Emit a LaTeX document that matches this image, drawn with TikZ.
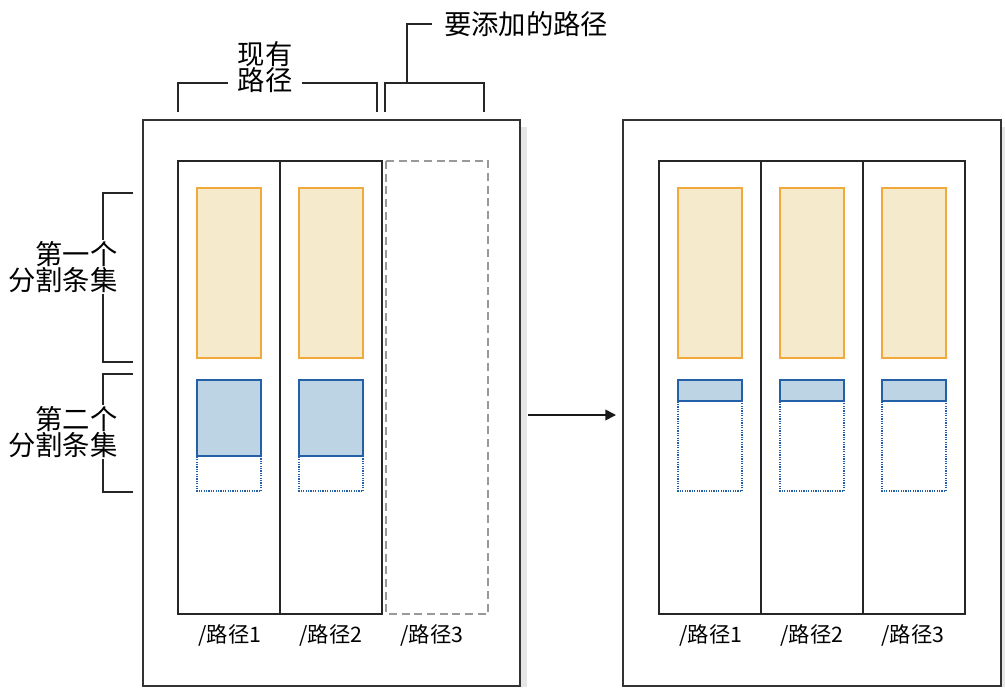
\documentclass[tikz,border=0pt]{standalone}
\usepackage{fontspec}
\setmainfont{Noto Sans CJK SC}
\usetikzlibrary{positioning,calc,arrows.meta}
\definecolor{setorange}{HTML}{F2A93B}
\definecolor{setorangefill}{HTML}{F5EACB}
\definecolor{setblue}{HTML}{2360A8}
\definecolor{setbluefill}{HTML}{BCD4E3}
\definecolor{shadowgray}{HTML}{E6E6E6}
\tikzset{
  outerbox/.style={draw=black!80, line width=1.2pt},
  pathcol/.style={draw=black!85, line width=1pt},
  newcol/.style={draw=black!40, line width=0.9pt, dash pattern=on 6pt off 3.5pt},
  firstset/.style={draw=setorange, fill=setorangefill, line width=1pt},
  secondset/.style={draw=setblue, fill=setbluefill, line width=1pt},
  freeset/.style={draw=setblue, line width=0.9pt, dash pattern=on 0.9pt off 0.9pt},
  bracket/.style={draw=black!85, line width=1pt},
  pathlabel/.style={font=\fontsize{16}{18}\selectfont, inner sep=0pt},
  toplabel/.style={font=\fontsize{20.5}{19.5}\selectfont, align=center, inner sep=0pt},
  setlabel/.style={font=\fontsize{20.5}{19.5}\selectfont, align=right, inner sep=1pt, fill=white},
}

\begin{document}
\begin{tikzpicture}[x=0.75pt,y=-0.75pt]
\useasboundingbox (0,0) rectangle (1005,687);
% shadows and outer boxes
\fill[shadowgray] (521,127) rectangle (527,687);
\fill[shadowgray] (1002,127) rectangle (1005,687);
\draw[outerbox] (143,120) rectangle (520,686);
\draw[outerbox] (623,120) rectangle (1001,686);

% left: existing paths + path to add
\draw[pathcol] (178,161) rectangle (280,614);
\draw[pathcol] (280,161) rectangle (382,614);
\draw[newcol] (386,161) rectangle (488,614);
\draw[firstset] (197,188) rectangle (261,358);
\draw[firstset] (299,188) rectangle (363,358);
\draw[freeset] (197,380) rectangle (261,491);
\draw[freeset] (299,380) rectangle (363,491);
\draw[secondset] (197,380) rectangle (261,456);
\draw[secondset] (299,380) rectangle (363,456);
\node[pathlabel] (lpath1) at (230,635) {/路径1};
\node[pathlabel] (lpath2) at (331,635) {/路径2};
\node[pathlabel] (lpath3) at (432,635) {/路径3};

% right: after rebalance
\draw[pathcol] (659,161) rectangle (761,614);
\draw[pathcol] (761,161) rectangle (863,614);
\draw[pathcol] (863,161) rectangle (965,614);
\draw[firstset] (678,188) rectangle (742,358);
\draw[firstset] (780,188) rectangle (844,358);
\draw[firstset] (882,188) rectangle (946,358);
\draw[freeset] (678,380) rectangle (742,491);
\draw[freeset] (780,380) rectangle (844,491);
\draw[freeset] (882,380) rectangle (946,491);
\draw[secondset] (678,380) rectangle (742,401);
\draw[secondset] (780,380) rectangle (844,401);
\draw[secondset] (882,380) rectangle (946,401);
\node[pathlabel] (rpath1) at (711,635) {/路径1};
\node[pathlabel] (rpath2) at (812,635) {/路径2};
\node[pathlabel] (rpath3) at (913,635) {/路径3};

% top brackets
\draw[bracket] (178,112) |- (377,83) -- (377,112);
\node[toplabel, fill=white, inner xsep=7pt] (existlabel) at (265,67) {现有\\路径};
\draw[bracket] (385,112) |- (484,83) -- (484,112);
\node[toplabel, anchor=west] (addlabel) at (444,24) {要添加的路径};
\draw[bracket] (407,83) |- ($(addlabel.west)+(-12,0)$);

% left brackets
\draw[bracket] (133,193) -| (103,362) -- (133,362);
\node[setlabel, anchor=east] (firstlabel) at (119,267) {第一个\\分割条集};
\draw[bracket] (133,374) -| (103,492) -- (133,492);
\node[setlabel, anchor=east] (secondlabel) at (119,432) {第二个\\分割条集};

% arrow
\coordinate (arrowstart) at (528,415);
\coordinate (arrowend) at (616,415);
\draw[line width=1.2pt, black!90, -{Triangle[length=8pt,width=8pt]}] (arrowstart) -- (arrowend);
\end{tikzpicture}
\end{document}
